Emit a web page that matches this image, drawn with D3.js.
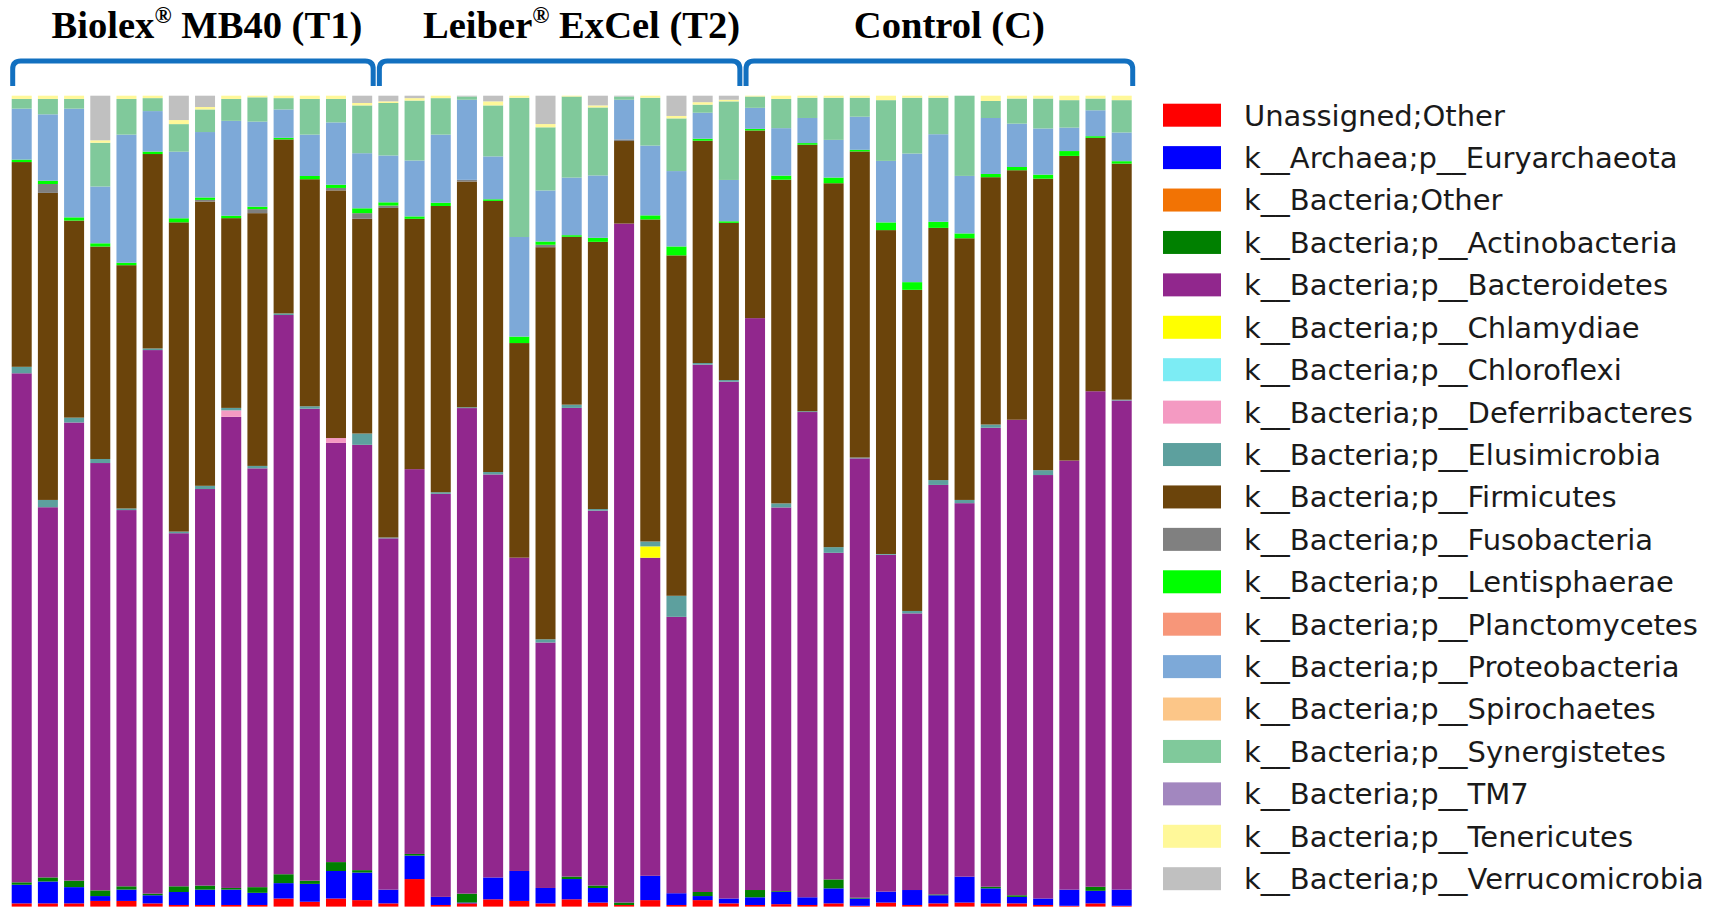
<!DOCTYPE html>
<html><head><meta charset="utf-8">
<script src="https://cdn.jsdelivr.net/npm/d3@7"></script>
<style>body{margin:0;background:#fff}svg{display:block}</style>
</head><body>
<svg id="chart" width="1720" height="908"></svg>
<script>
// ---------- DATA ----------
const taxa = [
  "Unassigned;Other","k__Archaea;p__Euryarchaeota","k__Bacteria;Other","k__Bacteria;p__Actinobacteria",
  "k__Bacteria;p__Bacteroidetes","k__Bacteria;p__Chlamydiae","k__Bacteria;p__Chloroflexi","k__Bacteria;p__Deferribacteres",
  "k__Bacteria;p__Elusimicrobia","k__Bacteria;p__Firmicutes","k__Bacteria;p__Fusobacteria","k__Bacteria;p__Lentisphaerae",
  "k__Bacteria;p__Planctomycetes","k__Bacteria;p__Proteobacteria","k__Bacteria;p__Spirochaetes","k__Bacteria;p__Synergistetes",
  "k__Bacteria;p__TM7","k__Bacteria;p__Tenericutes","k__Bacteria;p__Verrucomicrobia"
];
const taxonColors = ["#ff0000","#0000ff","#f27304","#008000","#91278d","#ffff00","#7cecf4","#f49ac2","#5da09e",
  "#6b440b","#808080","#00ff00","#f79679","#7da9d8","#fcc688","#80c99b","#a287bf","#fff899","#c0c0c0"];

const groupNames = ["Biolex® MB40 (T1)","Leiber® ExCel (T2)","Control (C)"];
const groupTitleParts = [["Biolex","®"," MB40 (T1)"],["Leiber","®"," ExCel (T2)"],["Control (C)","",""]];
const groupSizes = [14,14,15];
const samples = [];
groupSizes.forEach((n,g)=>{ for(let i=1;i<=n;i++) samples.push(["T1","T2","C"][g]+"-"+i); });

// relative abundance (%) per sample, 43 samples: T1(14), T2(14), C(15)
const unassigned     = [0.4,0.4,0.4,0.7,0.7,0.4,0.2,0.2,0.2,0.2,1.0,0.6,1.0,0.8, 0.4,3.4,0.2,0.4,0.9,0.7,0.4,0.9,0.5,0.2,0.8,0.2,0.8,0.4, 0.2,0.3,0.2,0.4,0.1,0.5,0.2,0.4,0.5,0.4,0.4,0.2,0.1,0.4,0.1];
const euryarchaeota  = [2.3,2.7,2.0,0.6,1.4,1.0,1.6,1.9,1.9,1.5,1.9,2.2,3.4,3.4, 1.7,2.9,1.0,0.1,2.7,3.7,1.9,2.5,1.8,0.0,3.0,1.45,0.5,0.6, 0.95,1.5,0.95,1.85,0.9,1.35,1.85,1.0,3.2,1.85,0.8,0.8,2.0,1.55,2.0];
const bacteriaOther  = [0,0,0,0,0,0,0,0,0,0,0,0,0,0, 0,0,0,0,0,0,0,0,0,0,0,0,0,0, 0,0,0,0,0,0,0,0,0,0,0,0,0,0,0];
const actinobacteria = [0.3,0.5,0.8,0.7,0.4,0.2,0.7,0.5,0.2,0.7,1.1,0.4,1.1,0.3, 0,0.2,0,1.1,0,0,0,0.3,0.3,0.3,0,0,0.5,0, 0.9,0.1,0,1.1,0.1,0,0,0.1,0,0.2,0.2,0,0,0.5,0];
const bacteroidetes  = [62.9,45.7,56.5,52.7,46.4,67.1,43.5,49.1,58.1,51.7,69.1,58.2,51.8,52.5, 43.5,47.5,49.7,60.0,49.8,38.7,30.3,57.8,46.3,83.9,39.2,34.1,65.0,63.8, 70.7,47.3,59.9,40.3,54.4,41.6,34.2,50.5,46.1,56.6,58.7,52.3,53.1,61.2,60.5];
const chlamydiae     = [0,0,0,0,0,0,0,0,0,0,0,0,0,0, 0,0,0,0,0,0,0,0,0,0,1.4,0,0,0, 0,0,0,0,0,0,0,0,0,0,0,0,0,0,0];
const chloroflexi    = [0,0,0,0,0,0,0,0,0,0,0,0,0,0, 0,0,0,0,0,0,0,0,0,0,0,0,0,0, 0,0,0,0,0,0,0,0,0,0,0,0,0,0,0];
const deferribacteres= [0,0,0,0,0,0,0,0,0.8,0,0,0,0.6,0, 0,0,0,0,0,0,0,0,0,0,0,0,0,0, 0,0,0,0,0,0,0,0,0,0,0,0,0,0,0];
const elusimicrobia  = [0.8,0.9,0.6,0.5,0.2,0.2,0.2,0.4,0.3,0.3,0.2,0.3,0,1.4, 0.1,0,0.2,0.1,0.3,0,0.4,0.4,0.2,0,0.6,2.6,0.2,0.2, 0,0.5,0.1,0.7,0.1,0.1,0.3,0.6,0.4,0.4,0,0.6,0,0,0.1];
const firmicutes     = [25.3,37.9,24.3,26.2,30.0,24.0,38.1,35.2,23.4,31.2,21.5,28.0,30.6,26.5, 40.8,30.9,35.3,27.9,33.5,26.5,48.4,20.7,33.0,10.2,39.7,42.0,27.4,19.4, 23.2,39.9,32.9,44.9,37.9,40.0,39.7,31.1,32.3,30.5,30.8,36.0,37.7,31.3,29.2];
const fusobacteria   = [0,1.1,0,0,0,0,0,0.2,0,0.5,0,0,0.3,0.7, 0.3,0,0,0.2,0,0,0.3,0,0,0.2,0,0,0,0, 0,0,0,0,0,0,0,0,0,0,0,0,0,0,0];
const lentisphaerae  = [0.3,0.4,0.4,0.4,0.3,0.3,0.5,0.3,0.3,0.3,0.2,0.4,0.4,0.6, 0.4,0.3,0.4,0,0.2,0.8,0.4,0.2,0.5,0,0.5,1.1,0.25,0.2, 0.2,0.5,0.2,0.7,0.2,0.95,0.95,0.75,0.6,0.4,0.4,0.5,0.6,0.2,0.3];
const planctomycetes = [0,0,0,0,0,0,0,0,0,0,0,0,0,0, 0,0,0,0,0,0,0,0,0,0,0,0,0,0, 0,0,0,0,0,0,0,0,0,0,0,0,0,0,0];
const proteobacteria = [6.3,8.2,13.4,7.0,15.8,5.0,8.2,8.1,11.7,10.5,3.5,5.1,7.7,6.8, 5.8,6.9,8.4,9.9,5.3,12.3,6.3,7.1,7.7,4.9,8.6,9.3,3.2,5.1, 2.6,5.85,3.1,4.65,4.1,7.6,15.9,10.8,7.1,6.9,5.35,5.7,2.9,3.2,3.55];
const spirochaetes   = [0,0,0,0,0,0,0,0,0,0,0,0,0,0, 0,0,0,0,0,0,0,0,0,0,0,0,0,0, 0,0,0,0,0,0,0,0,0,0,0,0,0,0,0];
const synergistetes  = [1.2,1.9,1.2,5.4,4.4,1.6,3.4,2.8,2.7,3.0,1.4,4.4,2.9,5.9, 6.5,7.4,4.5,0.4,6.3,17.2,7.8,10.0,8.4,0.4,5.9,6.5,1.0,9.7, 1.4,3.6,2.5,5.2,2.35,7.5,6.9,4.5,9.9,2.1,3.1,3.7,3.4,1.45,4.0];
const tm7            = [0,0,0,0,0,0,0,0,0,0,0,0,0,0, 0,0,0,0,0,0,0,0,0,0,0,0,0,0, 0,0,0,0,0,0,0,0,0,0,0,0,0,0,0];
const tenericutes    = [0.4,0.4,0.4,0.3,0.4,0.3,0.5,0.3,0.4,0.2,0.3,0.4,0.4,0.3, 0.2,0.3,0.3,0,0.5,0.25,0.4,0.1,0.25,0,0.25,0.3,0.3,0.2, 0.1,0.4,0.25,0.25,0.25,0.55,0.25,0.25,0,0.65,0.35,0.35,0.55,0.35,0.55];
const verrucomicrobia= [0,0,0,5.5,0,0,3.0,1.4,0,0,0,0,0,0.9, 0.7,0.3,0,0.1,0.7,0,3.5,0,1.2,0.1,0,2.5,0.8,0.5, 0,0,0,0,0,0,0,0,0,0,0,0,0,0,0];

const seriesValues = [unassigned,euryarchaeota,bacteriaOther,actinobacteria,bacteroidetes,chlamydiae,chloroflexi,
  deferribacteres,elusimicrobia,firmicutes,fusobacteria,lentisphaerae,planctomycetes,proteobacteria,spirochaetes,
  synergistetes,tm7,tenericutes,verrucomicrobia];

// ---------- BUILD TABLE ----------
const table = samples.map((s,i)=>{
  const row = {sample:s};
  taxa.forEach((t,k)=>{ row[t] = seriesValues[k][i]; });
  return row;
});

const svg = d3.select("#chart");
const plotTop = 95.7, plotBottom = 906.6;
const x = d3.scaleBand().domain(samples).range([8.61, 1134.8]).paddingInner(0.236).paddingOuter(0.118);
const y = d3.scaleLinear().domain([0,1]).range([plotBottom, plotTop]);
const color = d3.scaleOrdinal().domain(taxa).range(taxonColors);

const stack = d3.stack().keys(taxa).offset(d3.stackOffsetExpand);
const layers = stack(table);

svg.append("g").selectAll("g").data(layers).join("g")
  .attr("fill", d=>color(d.key))
  .selectAll("rect").data(d=>d).join("rect")
  .attr("x", d=>x(d.data.sample))
  .attr("width", x.bandwidth())
  .attr("y", d=>y(d[1]))
  .attr("height", d=>Math.max(0, y(d[0]) - y(d[1])));

// ---------- GROUP BRACKETS & TITLES ----------
const titleOffsets = [14, 22, 10];
let start = 0;
const bracketG = svg.append("g");
groupSizes.forEach((n,g)=>{
  const first = samples[start], last = samples[start+n-1];
  const x0 = x(first) + 1, x1 = x(last) + x.bandwidth() + 1;
  const yTop = 61, yEnd = 86, r = 8;
  bracketG.append("path")
    .attr("d", `M${x0},${yEnd} L${x0},${yTop+r} Q${x0},${yTop} ${x0+r},${yTop} L${x1-r},${yTop} Q${x1},${yTop} ${x1},${yTop+r} L${x1},${yEnd}`)
    .attr("fill","none").attr("stroke","#1270c0").attr("stroke-width",5);
  const cx = (x0+x1)/2 + titleOffsets[g];
  const parts = groupTitleParts[g];
  const t = svg.append("text").attr("x",cx).attr("y",38)
    .attr("text-anchor","middle")
    .attr("font-family","'Liberation Serif','Times New Roman',serif")
    .attr("font-weight","bold").attr("font-size",38.6).attr("fill","#000");
  t.append("tspan").text(parts[0]);
  if (parts[1]) {
    t.append("tspan").attr("font-size",23).attr("dy",-15).text(parts[1]);
    t.append("tspan").attr("dy",15).text(parts[2]);
  }
  start += n;
});

// ---------- LEGEND ----------
const ly = d3.scalePoint().domain(taxa).range([115.2, 878.7]);
const leg = svg.append("g").selectAll("g").data(taxa).join("g")
  .attr("transform", d=>`translate(0,${ly(d)})`);
leg.append("rect").attr("x",1163).attr("y",-11.5).attr("width",58).attr("height",23)
  .attr("fill", d=>color(d));
leg.append("text").attr("x",1244).attr("y",0).attr("dy","0.36em")
  .attr("font-family","'DejaVu Sans',sans-serif").attr("font-size",29).attr("fill","#1a1a1a")
  .text(d=>d);
</script>
</body></html>
